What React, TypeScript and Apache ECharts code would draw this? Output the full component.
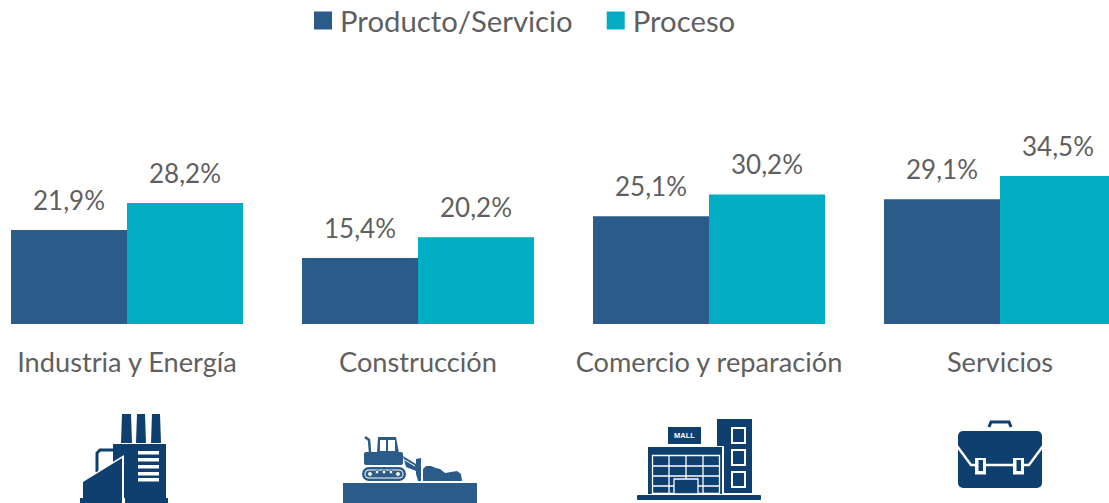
import React, { useEffect, useRef } from "react";
import * as echarts from "echarts";

const categories = ["Industria y Energía", "Construcción", "Comercio y reparación", "Servicios"];
const productoServicio = [21.9, 15.4, 25.1, 29.1];
const proceso = [28.2, 20.2, 30.2, 34.5];
const seriesNames = ["Producto/Servicio", "Proceso"];

const NAVY = "#0f3f6e";
const BLUE = "#2b5b88";
const TEAL = "#00adc3";
const TEXT = "#5f5f5f";
const WHITE = "#ffffff";
const FONT = "Lato";

const rect = (x: number, y: number, w: number, h: number, fill: string, r = 0, stroke?: string, lineWidth = 0) => ({
  type: "rect",
  shape: { x, y, width: w, height: h, r },
  style: { fill, stroke, lineWidth },
  silent: true,
});
const poly = (points: number[][], fill: string, smooth = 0) => ({
  type: "polygon",
  shape: { points, smooth },
  style: { fill },
  silent: true,
});
const wire = (points: number[][], stroke: string, lineWidth: number) => ({
  type: "polyline",
  shape: { points },
  style: { fill: "none", stroke, lineWidth },
  silent: true,
});
const dot = (cx: number, cy: number, r: number, fill: string, stroke?: string, lineWidth = 0) => ({
  type: "circle",
  shape: { cx, cy, r },
  style: { fill, stroke, lineWidth },
  silent: true,
});

const factory = [
  poly([[122, 414], [131, 414], [132, 443], [121, 443]], NAVY),
  poly([[137, 414], [145, 414], [146, 443], [136, 443]], NAVY),
  poly([[152, 414], [160, 414], [161, 443], [151, 443]], NAVY),
  rect(113, 444, 53, 59, NAVY),
  wire([[97, 472], [97, 453], [100, 450], [113, 450]], NAVY, 3),
  poly([[124, 455], [124, 503], [82, 503], [82, 481]], WHITE),
  poly([[122, 458], [122, 503], [83, 503], [83, 482]], NAVY),
  rect(80, 498, 88, 5, NAVY),
  rect(122, 498, 3, 5, WHITE),
  rect(138, 451, 21, 3.5, WHITE),
  rect(138, 458, 21, 3.5, WHITE),
  rect(138, 465, 21, 3.5, WHITE),
  rect(138, 472, 21, 3.5, WHITE),
  rect(138, 478, 21, 3.5, WHITE),
];

const bulldozer = [
  rect(343, 483, 134, 20, BLUE),
  wire([[365, 437], [369, 440], [370, 452]], BLUE, 2.5),
  poly([[378, 437], [396, 437], [399, 453], [377, 453]], BLUE),
  rect(380, 440, 6, 11, WHITE),
  rect(388, 440, 7, 11, WHITE),
  rect(364, 452, 39, 13, BLUE, 2),
  rect(362, 467, 44, 14, BLUE, 7),
  rect(364.5, 469.5, 39, 9, WHITE, 4.5),
  rect(365.5, 470.5, 37, 7, BLUE, 3.5),
  dot(370, 474, 2.4, WHITE, BLUE, 1),
  dot(377, 472, 1.9, WHITE, BLUE, 1),
  dot(384, 472, 1.9, WHITE, BLUE, 1),
  dot(391, 472, 1.9, WHITE, BLUE, 1),
  dot(398, 474, 2.4, WHITE, BLUE, 1),
  poly([[403, 456], [416, 464], [416, 471], [406, 467]], BLUE),
  wire([[403, 459], [415, 466]], WHITE, 1),
  poly([[416, 459], [421, 458], [421, 481], [418, 481], [416, 474]], BLUE),
  poly([[423, 481], [423, 469], [426, 466], [431, 466], [436, 468], [440, 469], [445, 473], [451, 472], [457, 471], [461, 474], [462, 481]], BLUE),
];

const mall = [
  rect(717, 419, 35, 74, NAVY),
  rect(732, 428, 13, 15, NAVY, 0, WHITE, 2),
  rect(732, 450, 13, 15, NAVY, 0, WHITE, 2),
  rect(732, 472, 13, 15, NAVY, 0, WHITE, 2),
  rect(668, 427, 33, 17, NAVY),
  {
    type: "text",
    x: 684.5,
    y: 435.5,
    style: { text: "MALL", fill: WHITE, fontFamily: "Liberation Sans", fontWeight: "bold", fontSize: 7.5, align: "center", verticalAlign: "middle" },
    silent: true,
  },
  rect(647, 446, 77, 48, WHITE),
  rect(648, 447, 74, 47, NAVY),
  rect(652.5, 455.5, 67, 38, NAVY, 0, WHITE, 1.3),
  wire([[669, 455], [669, 493]], WHITE, 1.3),
  wire([[686, 455], [686, 479]], WHITE, 1.3),
  wire([[703, 455], [703, 493]], WHITE, 1.3),
  wire([[652, 466], [720, 466]], WHITE, 1.3),
  wire([[652, 476], [720, 476]], WHITE, 1.3),
  wire([[652, 486], [720, 486]], WHITE, 1.3),
  rect(674, 479, 24, 15, NAVY, 0, WHITE, 1.3),
  rect(637, 495, 124, 5, NAVY, 1),
];

const briefcase = [
  wire([[989, 427], [991, 422], [1009, 422], [1011, 427]], NAVY, 3),
  rect(958, 431, 84, 57, NAVY, 5),
  wire([[957, 446], [971, 465], [1029, 465], [1043, 446]], WHITE, 2.4),
  rect(975, 458, 11, 16.5, WHITE),
  rect(978.5, 460, 4.5, 11, NAVY),
  rect(1013, 458, 11, 16.5, WHITE),
  rect(1016.5, 460, 4.5, 11, NAVY),
];

export default function App() {
  const ref = useRef<HTMLDivElement>(null);
  useEffect(() => {
    document.body.style.margin = "0";
    const chart = echarts.init(ref.current!, undefined, { renderer: "svg" });
    const label = {
      show: true,
      position: "top" as const,
      distance: 17,
      color: TEXT,
      fontFamily: FONT,
      fontSize: 26,
      formatter: (p: any) => p.value.toFixed(1).replace(".", ",") + "%",
    };
    chart.setOption({
      animation: false,
      backgroundColor: WHITE,
      legend: {
        left: 309,
        top: 1,
        itemWidth: 18,
        itemHeight: 18,
        itemGap: 34,
        icon: "rect",
        textStyle: { color: TEXT, fontFamily: FONT, fontSize: 29.3, padding: [0, 0, 0, 3] },
        data: seriesNames,
      },
      grid: { left: -18.5, top: 152.4, width: 1164, height: 171.6, outerBoundsMode: "none" },
      xAxis: {
        type: "category",
        data: categories,
        axisLine: { show: false },
        axisTick: { show: false },
        axisLabel: { color: TEXT, fontFamily: FONT, fontSize: 27.2, margin: 24, interval: 0, hideOverlap: false },
      },
      yAxis: { type: "value", min: 0, max: 40, show: false, splitLine: { show: false } },
      series: [
        { name: seriesNames[0], type: "bar", data: productoServicio, barWidth: 116, barGap: 0, itemStyle: { color: BLUE }, label },
        { name: seriesNames[1], type: "bar", data: proceso, barWidth: 116, barGap: 0, itemStyle: { color: TEAL }, label },
      ],
      graphic: [...factory, ...bulldozer, ...mall, ...briefcase],
    });
    return () => chart.dispose();
  }, []);
  return <div ref={ref} style={{ width: 1109, height: 503, overflow: "hidden" }} />;
}
